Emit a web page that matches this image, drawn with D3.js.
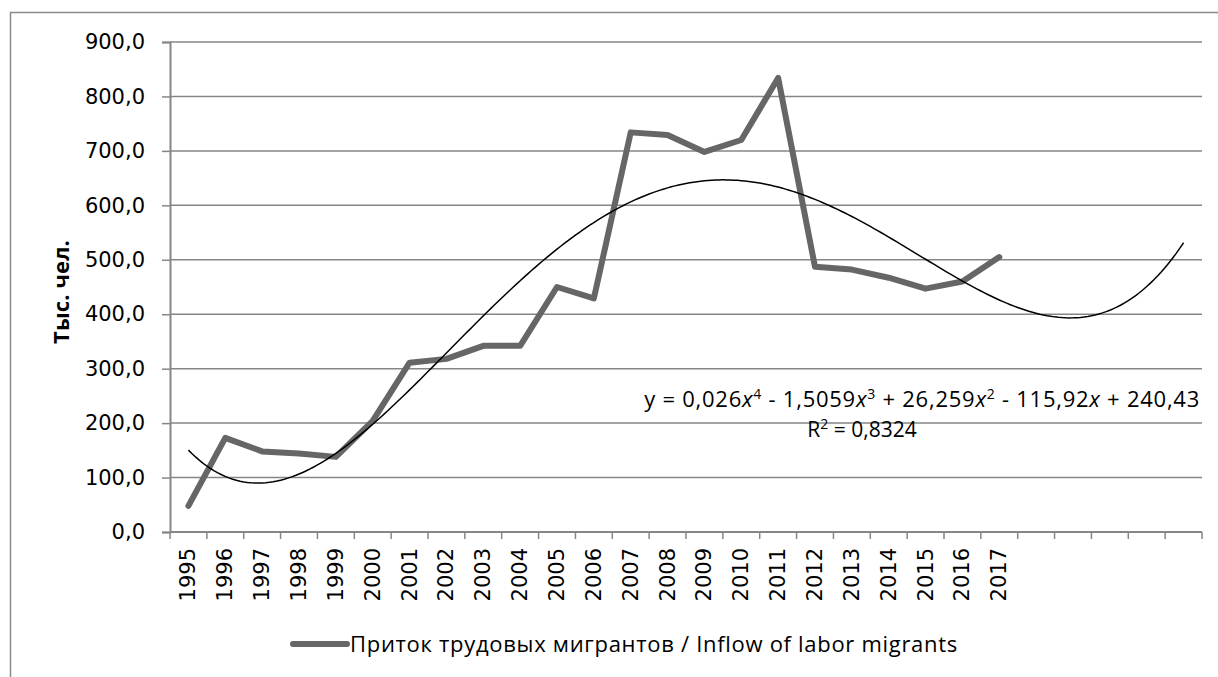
<!DOCTYPE html>
<html>
<head>
<meta charset="utf-8">
<script src="https://cdn.jsdelivr.net/npm/d3@7"></script>
<style>
  body { margin: 0; background: #fff; }
  svg { display: block; }
</style>
</head>
<body>
<div id="chart"></div>
<script>
// Chart data
var years = ["1995", "1996", "1997", "1998", "1999", "2000", "2001", "2002", "2003", "2004", "2005", "2006",
    "2007", "2008", "2009", "2010", "2011", "2012", "2013", "2014", "2015", "2016", "2017"];
var inflow = [48, 173, 148, 144, 138, 204, 311, 318, 342, 342, 450, 429,
    734, 729, 698, 720, 834, 487, 482, 467, 447, 460, 505];
var forecastPeriods = 5;   // trendline forward forecast (empty categories)
var yTicks = [0, 100, 200, 300, 400, 500, 600, 700, 800, 900];
var seriesName = "Приток трудовых мигрантов / Inflow of labor migrants";
var yTitle = "Тыс. чел.";

// Chart params
var svgWidth = 1218;
var svgHeight = 677;
var margin = { top: 42, right: 16, bottom: 145, left: 170 };
var width = 1202 - margin.left;
var height = 532 - margin.top;

var svg = d3.select("#chart")
    .append("svg")
    .attr("width", svgWidth)
    .attr("height", svgHeight);

// stretch a text to a given width with letter spacing (Calibri is not installed)
function fitWidth(sel, target) {
    var node = sel.node();
    var w = node.getComputedTextLength();
    var n = node.textContent.length;
    sel.attr("letter-spacing", ((target - w) / n).toFixed(2) + "px");
}

// outer frame of the chart area
svg.append("rect")
    .attr("x", 10.5)
    .attr("y", 12.5)
    .attr("width", 1400)
    .attr("height", 1000)
    .attr("fill", "none")
    .attr("stroke", "#8a8a8a")
    .attr("stroke-width", 1.5);

var chartGroup = svg.append("g")
    .attr("transform", `translate(${margin.left}, ${margin.top})`);

var nCats = years.length + forecastPeriods;
var x = d3.scaleBand()
    .domain(d3.range(nCats))
    .range([0, width])
    .padding(0);
var y = d3.scaleLinear()
    .domain([0, 900])
    .range([height, 0]);

var cx = i => x(i) + x.bandwidth() / 2;

// gridlines
chartGroup.append("g")
    .selectAll("line")
    .data(yTicks.filter(d => d > 0))
    .enter()
    .append("line")
    .attr("x1", 0)
    .attr("x2", width)
    .attr("y1", d => y(d))
    .attr("y2", d => y(d))
    .attr("stroke", "#868686")
    .attr("stroke-width", 1.5);

// y axis
var leftAxis = d3.axisLeft(y)
    .tickValues(yTicks)
    .tickSize(8)
    .tickPadding(17)
    .tickFormat(d => d3.format(".1f")(d).replace(".", ","));
var yAxis = chartGroup.append("g").call(leftAxis);
yAxis.select(".domain").attr("stroke", "#868686").attr("stroke-width", 2);
yAxis.selectAll(".tick line").attr("stroke", "#868686").attr("stroke-width", 1.5);
yAxis.selectAll(".tick text")
    .attr("font-family", "DejaVu Sans")
    .attr("font-size", "21px")
    .attr("fill", "#000");

// x axis: ticks on category boundaries
var xAxis = chartGroup.append("g")
    .attr("transform", `translate(0, ${height})`);
xAxis.append("line")
    .attr("x1", 0)
    .attr("x2", width)
    .attr("stroke", "#868686")
    .attr("stroke-width", 2);
xAxis.selectAll("line.tick")
    .data(d3.range(nCats + 1))
    .enter()
    .append("line")
    .attr("class", "tick")
    .attr("x1", d => d === nCats ? width : x(d))
    .attr("x2", d => d === nCats ? width : x(d))
    .attr("y1", 0)
    .attr("y2", 7)
    .attr("stroke", "#868686")
    .attr("stroke-width", 1.5);
xAxis.selectAll("text")
    .data(years)
    .enter()
    .append("text")
    .attr("transform", (d, i) => `translate(${cx(i) + 7}, 16) rotate(-90)`)
    .attr("text-anchor", "end")
    .attr("font-family", "DejaVu Sans")
    .attr("font-size", "21px")
    .text(d => d);

// y title
var yt = svg.append("text")
    .attr("transform", "translate(69, 292) rotate(-90)")
    .attr("text-anchor", "middle")
    .attr("font-family", "Open Sans")
    .attr("font-weight", "bold")
    .attr("font-size", "22px")
    .text(yTitle);
fitWidth(yt, 104);

// polynomial (order 4) least-squares trendline, x = 1..n like the spreadsheet
function polyFit(xs, ys, order) {
    var n = order + 1;
    var A = [], b = [];
    for (var r = 0; r < n; r++) {
        A.push([]);
        for (var c = 0; c < n; c++) {
            A[r].push(d3.sum(xs, v => Math.pow(v, r + c)));
        }
        b.push(d3.sum(xs, (v, k) => ys[k] * Math.pow(v, r)));
    }
    // gaussian elimination
    for (var p = 0; p < n; p++) {
        var max = p;
        for (var r2 = p + 1; r2 < n; r2++) if (Math.abs(A[r2][p]) > Math.abs(A[max][p])) max = r2;
        [A[p], A[max]] = [A[max], A[p]];
        [b[p], b[max]] = [b[max], b[p]];
        for (var r3 = p + 1; r3 < n; r3++) {
            var f = A[r3][p] / A[p][p];
            for (var c2 = p; c2 < n; c2++) A[r3][c2] -= f * A[p][c2];
            b[r3] -= f * b[p];
        }
    }
    var coef = new Array(n).fill(0);
    for (var i = n - 1; i >= 0; i--) {
        var s = b[i];
        for (var j = i + 1; j < n; j++) s -= A[i][j] * coef[j];
        coef[i] = s / A[i][i];
    }
    return coef;
}
var xsIdx = inflow.map((d, i) => i + 1);
var coef = polyFit(xsIdx, inflow, 4);
var trendAt = t => coef.reduce((acc, c, k) => acc + c * Math.pow(t, k), 0);
var trendPts = d3.range(1, nCats + 0.001, 0.1).map(t => [t, trendAt(t)]);

// data line
var line = d3.line()
    .x((d, i) => cx(i))
    .y(d => y(d));
chartGroup.append("path")
    .datum(inflow)
    .attr("d", line)
    .attr("fill", "none")
    .attr("stroke", "#666666")
    .attr("stroke-width", 6)
    .attr("stroke-linejoin", "round")
    .attr("stroke-linecap", "round");

// trendline
var bw = x.bandwidth();
chartGroup.append("path")
    .datum(trendPts)
    .attr("d", d3.line()
        .x(d => (d[0] - 0.5) * bw)
        .y(d => y(d[1])))
    .attr("fill", "none")
    .attr("stroke", "#000")
    .attr("stroke-width", 1.5);

// equation label
var eq = svg.append("text")
    .attr("x", 1200)
    .attr("y", 407)
    .attr("text-anchor", "end")
    .attr("font-family", "Open Sans")
    .attr("font-size", "22px")
    .attr("fill", "#000");
var eqParts = [
    ["y = 0,026", ""], ["x", "i"], ["4", "s"], [" - 1,5059", ""], ["x", "i"], ["3", "s"],
    [" + 26,259", ""], ["x", "i"], ["2", "s"], [" - 115,92", ""], ["x", "i"], [" + 240,43", ""]
];
eqParts.forEach(function(p, i) {
    var t = eq.append("tspan").text(p[0]);
    if (p[1] === "i") t.attr("font-style", "italic");
    if (p[1] === "s") t.attr("font-size", "14px").attr("dy", -8);
    var prev = eqParts[i - 1];
    if (prev && prev[1] === "s") t.attr("dy", 8);
});
fitWidth(eq, 556);

var r2 = svg.append("text")
    .attr("x", 862)
    .attr("y", 437)
    .attr("text-anchor", "middle")
    .attr("font-family", "Open Sans")
    .attr("font-size", "21px");
r2.append("tspan").text("R");
r2.append("tspan").text("2").attr("font-size", "14px").attr("dy", -8);
r2.append("tspan").text(" = 0,8324").attr("dy", 8);

// legend
var legend = svg.append("g").attr("transform", "translate(293, 644)");
legend.append("line")
    .attr("x1", 0)
    .attr("x2", 54)
    .attr("stroke", "#666666")
    .attr("stroke-width", 6)
    .attr("stroke-linecap", "round");
var legText = legend.append("text")
    .attr("x", 57)
    .attr("y", 8)
    .attr("font-family", "Open Sans")
    .attr("font-size", "22px")
    .text(seriesName);
fitWidth(legText, 608);
</script>
</body>
</html>
